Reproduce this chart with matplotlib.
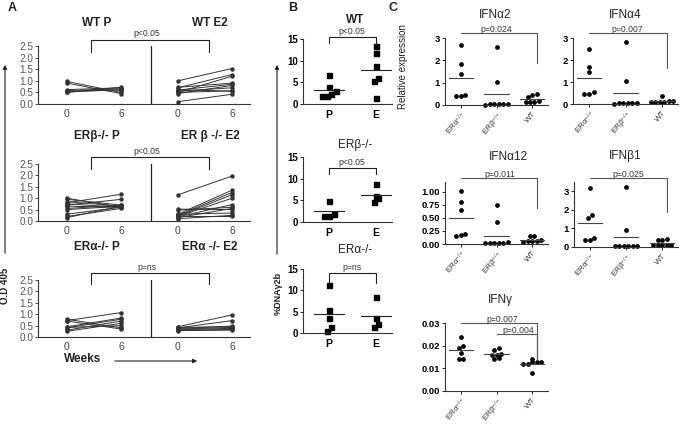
import numpy as np
import matplotlib
matplotlib.use('Agg')
import matplotlib.pyplot as plt
from matplotlib.patches import FancyArrowPatch
from matplotlib.transforms import blended_transform_factory as blend

plt.rcParams['font.family'] = ['Liberation Sans', 'DejaVu Sans']
plt.rcParams['mathtext.fontset'] = 'custom'
plt.rcParams['mathtext.rm'] = 'Liberation Sans'
plt.rcParams['mathtext.it'] = 'Liberation Sans:italic'
plt.rcParams['mathtext.bf'] = 'Liberation Sans:bold'

# ---- A: O.D 405, week 0 -> week 6, one line per mouse
wt_p_w0 = [0.97, 0.90, 0.62, 0.58, 0.52, 0.50, 0.55]
wt_p_w6 = [0.50, 0.45, 0.70, 0.66, 0.62, 0.72, 0.60]
wt_e2_w0 = [1.00, 0.70, 0.50, 0.72, 0.60, 0.45, 0.55, 0.50, 0.62, 0.10]
wt_e2_w6 = [1.53, 1.27, 1.20, 0.90, 0.85, 0.80, 0.70, 0.57, 0.55, 0.42]
erb_p_w0 = [1.00, 0.95, 0.85, 0.80, 0.70, 0.65, 0.55, 0.50, 0.30, 0.20, 0.15, 0.75]
erb_p_w6 = [0.60, 0.70, 0.65, 1.17, 0.95, 0.60, 0.70, 0.65, 0.60, 0.55, 0.65, 0.60]
erb_e2_w0 = [1.15, 0.52, 0.48, 0.30, 0.25, 0.22, 0.20, 0.18, 0.15, 0.30, 0.10, 0.20]
erb_e2_w6 = [1.97, 0.50, 0.60, 1.35, 1.25, 1.15, 1.00, 0.72, 0.55, 0.35, 0.25, 0.20]
era_p_w0 = [0.72, 0.78, 0.70, 0.45, 0.40, 0.30, 0.25, 0.42]
era_p_w6 = [1.07, 0.40, 0.35, 0.83, 0.78, 0.70, 0.60, 0.50]
era_e2_w0 = [0.45, 0.40, 0.38, 0.35, 0.32, 0.30, 0.28, 0.42]
era_e2_w6 = [0.97, 0.72, 0.48, 0.42, 0.38, 0.33, 0.30, 0.45]
weeks = [0, 6]

# ---- B: %DNA gamma2b, P vs E
wt_dna_p = [6.6, 3.9, 2.9, 2.4, 1.9, 1.9]
wt_dna_e = [13.3, 11.8, 8.7, 6.1, 5.2, 1.4]
erb_dna_p = [4.9, 1.9, 1.5, 1.5]
erb_dna_e = [8.7, 6.0, 5.5, 4.7]
era_dna_p = [11.2, 5.3, 3.5, 1.3, 0.4]
era_dna_e = [8.5, 3.5, 2.0, 1.5]

# ---- C: relative expression
groups_c = ['ERα$^{-/-}$', 'ERβ$^{-/-}$', 'WT']
ifna2_era = [2.7, 1.85, 1.4, 0.45, 0.42, 0.42]
ifna2_erb = [2.6, 1.05, 0.05, 0.03, 0.04, 0.02, 0.05, 0.03]
ifna2_wt = [0.5, 0.45, 0.35, 0.15, 0.12, 0.12, 0.2]
ifna4_era = [2.5, 1.7, 1.45, 0.55, 0.45, 0.45]
ifna4_erb = [2.8, 1.05, 0.05, 0.03, 0.04, 0.02, 0.04, 0.03]
ifna4_wt = [0.38, 0.15, 0.1, 0.1, 0.12, 0.1, 0.08]
ifna12_era = [1.02, 0.8, 0.65, 0.2, 0.15, 0.18]
ifna12_erb = [0.75, 0.43, 0.02, 0.02, 0.01, 0.02, 0.02, 0.03]
ifna12_wt = [0.15, 0.15, 0.08, 0.05, 0.05, 0.06, 0.04]
ifnb1_era = [3.2, 1.75, 1.55, 0.5, 0.4, 0.4]
ifnb1_erb = [3.25, 0.9, 0.05, 0.05, 0.04, 0.05, 0.06, 0.05]
ifnb1_wt = [0.45, 0.4, 0.4, 0.1, 0.1, 0.1, 0.1, 0.1]
ifng_era = [0.024, 0.020, 0.019, 0.017, 0.014, 0.014]
ifng_erb = [0.019, 0.018, 0.0165, 0.016, 0.016, 0.0145, 0.014]
ifng_wt = [0.014, 0.013, 0.013, 0.012, 0.012, 0.008, 0.013]

W, H = 685, 425
fig = plt.figure(figsize=(W / 100, H / 100), dpi=100)
INK = '#222222'
GREY = '#555555'


def fy(py):
    return 1 - py / H


def px_axes(l, t, r, b):
    ax = fig.add_axes([l / W, 1 - b / H, (r - l) / W, (b - t) / H])
    for s in ['top', 'right']:
        ax.spines[s].set_visible(False)
    for s in ['left', 'bottom']:
        ax.spines[s].set_color('#333333')
        ax.spines[s].set_linewidth(0.8)
    ax.patch.set_alpha(0)
    return ax


def ftext(x, y, s, **kw):
    kw.setdefault('ha', 'center')
    kw.setdefault('va', 'center')
    kw.setdefault('color', INK)
    fig.text(x / W, fy(y), s, **kw)


def bracket(ax, x1, x2, py, d1=None, d2=None, color=INK):
    tr = blend(ax.transData, fig.transFigure)
    d1 = py if d1 is None else d1
    d2 = py if d2 is None else d2
    ax.plot([x1, x1, x2, x2], [fy(d1), fy(py), fy(py), fy(d2)], transform=tr,
            clip_on=False, color=color, lw=0.8)


def farrow(x1, y1, x2, y2):
    fig.add_artist(FancyArrowPatch((x1 / W, fy(y1)), (x2 / W, fy(y2)),
                                   transform=fig.transFigure, arrowstyle='-|>',
                                   mutation_scale=6, lw=0.8, color=INK))


def spread(vals, tol, step):
    vals = np.asarray(vals, float)
    xs = np.zeros(len(vals))
    clusters = []
    for i in np.argsort(vals):
        if clusters and vals[i] - vals[clusters[-1][0]] <= tol:
            clusters[-1].append(i)
        else:
            clusters.append([i])
    for c in clusters:
        for k, i in enumerate(c):
            xs[i] = (k - (len(c) - 1) / 2) * step
    return xs


# ================= Panel A =================
ftext(12, 8, 'A', fontsize=9, fontweight='bold')
off = 12.33
A_rows = [
    (46, 104, 23, 'WT P', 'WT E2', 'p<0.05', 40, 52,
     wt_p_w0, wt_p_w6, wt_e2_w0, wt_e2_w6),
    (164, 221, 136, 'ERβ-/- P', 'ER β -/- E2', 'p<0.05', 157, 169,
     erb_p_w0, erb_p_w6, erb_e2_w0, erb_e2_w6),
    (280, 337, 247, 'ERα-/- P', 'ERα -/- E2', 'p=ns', 273, 284,
     era_p_w0, era_p_w6, era_e2_w0, era_e2_w6),
]
for top, bot, ty, t1, t2, ptxt, by, bd, p0, p6, e0, e6 in A_rows:
    ax = px_axes(38, top, 250, bot)
    ax.set_xlim(-3.22, 20.33)
    ax.set_ylim(0, 2.5)
    for y0, y6 in zip(p0, p6):
        ax.plot(weeks, [y0, y6], color='#333333', lw=0.7, marker='o', ms=2.2, clip_on=False)
    for y0, y6 in zip(e0, e6):
        ax.plot([w + off for w in weeks], [y0, y6], color='#333333', lw=0.7,
                marker='o', ms=2.2, clip_on=False)
    ax.axvline(9.33, color=INK, lw=0.9)
    ax.set_yticks(np.arange(0, 2.51, 0.5))
    ax.set_yticklabels(['%.1f' % v for v in np.arange(0, 2.51, 0.5)])
    ax.set_xticks([0, 6, off, off + 6])
    ax.set_xticklabels(['0', '6', '0', '6'])
    ax.tick_params(axis='y', length=2, width=0.6, labelsize=7.2, pad=1.5,
                   colors='#333333', labelcolor='#555555')
    ax.tick_params(axis='x', length=0, labelsize=7.5, pad=3.5, labelcolor='#444444')
    bracket(ax, 2.67, 15.78, by, bd, bd)
    ftext(147, by - 1.5, ptxt, fontsize=6.2, va='bottom', color='#333333')
    ftext(97, ty, t1, fontsize=8.5, fontweight='bold')
    ftext(210, ty, t2, fontsize=8.5, fontweight='bold')

ftext(83, 359, 'Weeks', fontsize=8.5, fontweight='bold')
farrow(112, 361, 200, 361)
farrow(5, 256, 5, 62)
ftext(5, 286, 'O.D 405', fontsize=7, fontweight='bold', rotation=90)

# ================= Panel B =================
ftext(293, 8, 'B', fontsize=9, fontweight='bold')
B_panels = [
    (39, 104, 20, 'WT', 'bold', 'p<0.05', 37, 43, wt_dna_p, wt_dna_e),
    (157, 222, 145, 'ERβ-/-', 'normal', 'p<0.05', 168, 174, erb_dna_p, erb_dna_e),
    (269, 333, 250, 'ERα-/-', 'normal', 'p=ns', 273, 283, era_dna_p, era_dna_e),
]
for top, bot, ty, title, tw, ptxt, by, bd, pv, ev in B_panels:
    ax = px_axes(303, top, 392, bot)
    ax.set_xlim(-0.553, 1.34)
    ax.set_ylim(0, 15)
    tol = 15 * 4.5 / (bot - top)
    for i, vals in enumerate([pv, ev]):
        xs = i + spread(vals, tol, 0.1)
        ax.plot(xs, vals, ls='none', marker='s', ms=3.6, color='black', clip_on=False)
        ax.plot([i - 0.32, i + 0.32], [np.mean(vals)] * 2, color=INK, lw=0.8)
    ax.set_yticks([0, 5, 10, 15])
    ax.set_xticks([0, 1])
    ax.set_xticklabels(['P', 'E'])
    ax.tick_params(axis='y', length=2, width=0.6, labelsize=7, pad=1.5)
    ax.tick_params(axis='x', length=0, labelsize=7.5, pad=4)
    for lab in ax.get_yticklabels() + ax.get_xticklabels():
        lab.set_fontweight('bold')
    bracket(ax, 0, 1, by, bd, bd)
    ftext(352, by - 1, ptxt, fontsize=6.2, va='bottom', color='#333333')
    ftext(355, ty, title, fontsize=8.5, fontweight=tw)

farrow(277, 257, 277, 62)
ftext(278, 293, '%DNAγ2b', fontsize=6.5, fontweight='bold', rotation=90)

# ================= Panel C =================
ftext(393, 8, 'C', fontsize=9, fontweight='bold')
C_panels = [
    ('IFNα2', (445, 38, 548, 105), 3.0, [0, 1, 2, 3], '%d', (495, 15),
     [ifna2_era, ifna2_erb, ifna2_wt], [('p=0.024', 0, 33, 63, 1.0)]),
    ('IFNα4', (573, 38, 678, 104), 3.0, [0, 1, 2, 3], '%d', (625, 15),
     [ifna4_era, ifna4_erb, ifna4_wt], [('p=0.007', 0, 33, 68, 1.05)]),
    ('IFNα12', (445, 182, 548, 244), 1.19, [0, 0.25, 0.5, 0.75, 1.0], '%.2f', (508, 157),
     [ifna12_era, ifna12_erb, ifna12_wt], [('p=0.011', 0, 178, 208, 1.1)]),
    ('IFNβ1', (574, 182, 678, 247), 3.5, [0, 1, 2, 3], '%d', (625, 156),
     [ifnb1_era, ifnb1_erb, ifnb1_wt], [('p=0.025', 0, 178, 212, 1.07)]),
    ('IFNγ', (445, 323, 548, 391), 0.0302, [0, 0.01, 0.02, 0.03], '%.2f', (500, 300),
     [ifng_era, ifng_erb, ifng_wt], [('p=0.007', 0, 323, 360, 1.15), ('p=0.004', 1, 334, 360, 1.6)]),
]
for title, (l, t, r, b), ymax, ticks, fmt, tpos, data, brs in C_panels:
    ax = px_axes(l, t, r, b)
    ax.set_xlim(-0.44, 2.44)
    ax.set_ylim(0, ymax)
    tol = ymax * 4.0 / (b - t)
    for i, vals in enumerate(data):
        xs = i + spread(vals, tol, 0.125)
        ax.plot(xs, vals, ls='none', marker='o', ms=2.4, color='black', clip_on=False)
        ax.plot([i - 0.34, i + 0.34], [np.mean(vals)] * 2, color='#444444', lw=0.8)
    ax.set_yticks(ticks)
    ax.set_yticklabels([fmt % v for v in ticks])
    ax.set_xticks([0, 1, 2])
    ax.set_xticklabels(groups_c, rotation=50, ha='right', rotation_mode='anchor')
    ax.tick_params(axis='y', length=2, width=0.6, labelsize=6.8, pad=1.5)
    ax.tick_params(axis='x', length=2, width=0.6, labelsize=5.8, pad=1.5, labelcolor='#333333')
    for lab in ax.get_yticklabels():
        lab.set_fontweight('bold')
    for ptxt, start, by, bd, tx in brs:
        bracket(ax, start, 2.14, by, None, bd, color=GREY)
        ax.text(tx, fy(by) + 0.002, ptxt, transform=blend(ax.transData, fig.transFigure),
                fontsize=6.2, ha='center', va='baseline', color='#333333')
    ftext(tpos[0], tpos[1], title, fontsize=8.5)

ftext(403, 67, 'Relative expression', fontsize=7, rotation=90)

fig.savefig('out.png', dpi=100)
